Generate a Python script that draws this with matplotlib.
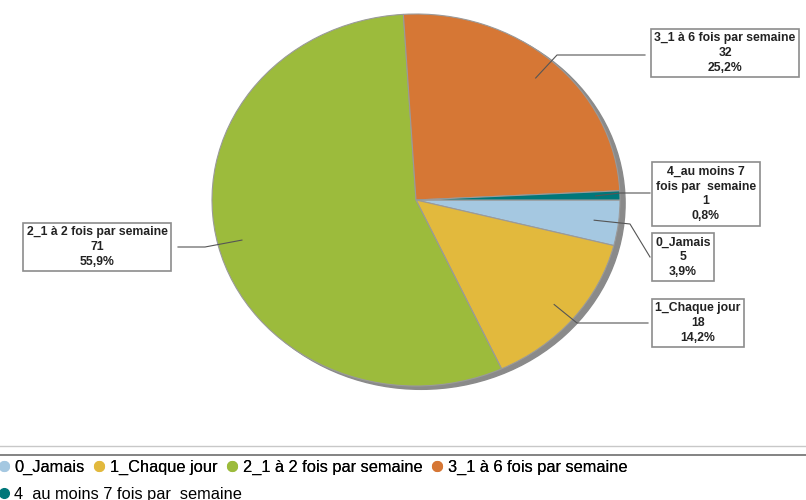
import numpy as np
import matplotlib.pyplot as plt
from matplotlib.patches import Ellipse
from matplotlib.lines import Line2D

categories = ['0_Jamais', '1_Chaque jour', '2_1 à 2 fois par semaine',
              '3_1 à 6 fois par semaine', '4_au moins 7 fois par  semaine']
counts = [5, 18, 71, 32, 1]
pcts = ['3,9%', '14,2%', '55,9%', '25,2%', '0,8%']
box_names = ['0_Jamais', '1_Chaque jour', '2_1 à 2 fois par semaine',
             '3_1 à 6 fois par semaine', '4_au moins 7\nfois par  semaine']
colors = ['#a5c8e1', '#e2b93d', '#9cbb3c', '#d67735', '#00777a']

# layout (pixels)
cx, cy, rx, ry = 416, 200, 204, 186
box_pos = [(683, 257), (698, 323), (97, 247), (725, 53), (706, 194)]
elbows = [[(630, 224), (650, 257)], [(577, 323), (648, 323)],
          [(205, 247), (178, 247)], [(557, 55), (645, 55)],
          [(620, 193), (650, 193)]]

fig = plt.figure(figsize=(8.06, 5), dpi=100)

pax = fig.add_axes([(cx - rx) / 806, (500 - cy - ry) / 500, 2 * rx / 806, 2 * ry / 500])
pax.add_patch(Ellipse((0.025, -0.018), 2, 2, color='#8a8a8a', zorder=0, clip_on=False))
wedges, _ = pax.pie(counts, colors=colors, startangle=0, counterclock=False,
                    wedgeprops=dict(edgecolor='#9a9a9a', linewidth=0.8))
pax.set_aspect('auto')
pax.set_xlim(-1, 1)
pax.set_ylim(-1, 1)
pax.axis('off')

ov = fig.add_axes([0, 0, 1, 1])
ov.set_xlim(0, 806)
ov.set_ylim(500, 0)
ov.axis('off')

lab_font = ['Liberation Sans', 'DejaVu Sans']
for i, w in enumerate(wedges):
    mid = np.deg2rad((w.theta1 + w.theta2) / 2)
    ax0 = cx + 0.88 * rx * np.cos(mid)
    ay0 = cy - 0.88 * ry * np.sin(mid)
    xs = [ax0] + [p[0] for p in elbows[i]]
    ys = [ay0] + [p[1] for p in elbows[i]]
    ov.plot(xs, ys, color='#555555', lw=0.8)
    bx, by = box_pos[i]
    ov.text(bx, by, f'{box_names[i]}\n{counts[i]}\n{pcts[i]}', ha='center', va='center',
            fontsize=8.8, fontweight='bold', family=lab_font, color='#222222',
            linespacing=1.3,
            bbox=dict(boxstyle='square,pad=0.3', fc='white', ec='#8c8c8c', lw=1.2))

# separator lines above the legend
ov.plot([0, 806], [446, 446], color='#c8c8c8', lw=1)
ov.plot([0, 806], [455, 455], color='#6e6e6e', lw=1.2)

leg_font = dict(family=['Liberation Sans', 'DejaVu Sans'], size=11.8)
handles = [Line2D([], [], ls='none', marker='o', markersize=7, color=c) for c in colors]
leg1 = fig.legend(handles[:4], categories[:4], ncol=4, loc='center left',
                  bbox_to_anchor=(-11, 467), bbox_transform=ov.transData,
                  frameon=False, prop=leg_font, handlelength=0.8,
                  handletextpad=0.25, columnspacing=0.5, borderpad=0)
fig.add_artist(leg1)
fig.legend(handles[4:], categories[4:], loc='center left',
           bbox_to_anchor=(-11, 494), bbox_transform=ov.transData,
           frameon=False, prop=leg_font, handlelength=0.8,
           handletextpad=0.25, borderpad=0)

fig.savefig('out.png', dpi=100)
